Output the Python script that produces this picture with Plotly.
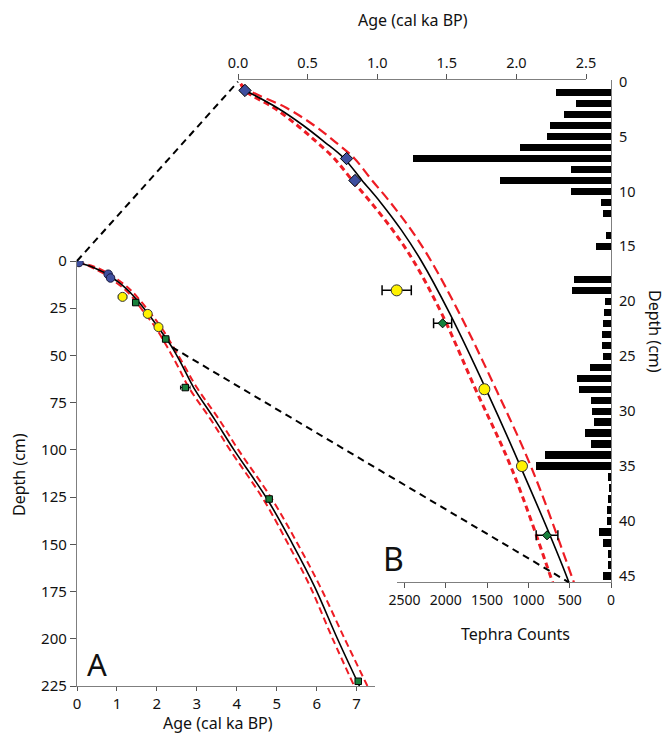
import plotly.graph_objects as go

W, H = 666, 736

# ---------------- data ----------------
# age-depth model (depth in cm, age in cal ka BP); lower/upper bounds of the model
model_depth = [0.2, 0.87, 2.4, 3.97, 5.5, 6.97, 8.97, 10.97, 13.52, 16.26, 21.08, 28.1, 35.2, 45.58,
               56, 67, 84, 100, 126, 150, 172.5, 200, 225]
model_age   = [None, 0.0625, 0.284, 0.467, 0.622, 0.761, 0.890, 1.023, 1.174, 1.314, 1.52, 1.785, 2.035, 2.377,
               2.65, 2.92, 3.45, 3.93, 4.76, 5.40, 5.95, 6.52, 7.07]
model_lo    = [0.02, 0.055, 0.26, 0.425, 0.565, 0.69, 0.82, 0.953, 1.112, 1.258, 1.462, 1.71, 1.965, 2.26,
               2.53, 2.80, 3.35, 3.83, 4.66, 5.29, 5.84, 6.40, 6.94]
model_hi    = [0.02, 0.09, 0.35, 0.545, 0.70, 0.835, 0.962, 1.093, 1.245, 1.384, 1.59, 1.857, 2.11, 2.413,
               2.70, 3.00, 3.56, 4.04, 4.88, 5.53, 6.09, 6.70, 7.27]

# dated horizons
pb_age = [0.05, 0.78, 0.84]
pb_depth = [0.8, 7, 9]

teph_age = [1.14, 1.77, 2.04]
teph_depth = [19, 28, 35]
teph_err = [0.105, 0.02, 0.02]

c14_age = [1.47, 2.22, 2.71, 4.81, 7.04]
c14_depth = [22, 41.3, 67, 126, 222.5]
c14_err = [0.065, 0.078, 0.12, 0.04, 0.04]

# tephra counts per cm
count_depth = list(range(1, 46))
counts = [666, 424, 569, 734, 771, 1101, 2396, 488, 1343, 484,
          121, 93, 0, 61, 185, 0, 0, 448, 472, 69,
          85, 93, 105, 105, 97, 254, 415, 391, 246, 230,
          206, 311, 238, 799, 908, 33, 24, 33, 52, 44,
          141, 93, 40, 40, 93]

a_xticks = [0, 1, 2, 3, 4, 5, 6, 7]
a_yticks = [0, 25, 50, 75, 100, 125, 150, 175, 200, 225]
b_xticks = [0, 0.5, 1.0, 1.5, 2.0, 2.5]
b_yticks = [0, 5, 10, 15, 20, 25, 30, 35, 40, 45]
c_xticks = [0, 500, 1000, 1500, 2000, 2500]

# ---------------- layout geometry ----------------
def dx(a, b):
    return [a / W, b / W]

def dy(top, bottom):
    return [1 - bottom / H, 1 - top / H]

A_XDOM, A_YDOM = dx(77, 375), dy(261, 686)
A_XRNG, A_YRNG = [0, 7.46], [225, 0]
B_XDOM, B_YDOM = dx(238, 586), dy(80, 582)
B_XRNG, B_YRNG = [0, 2.5], [45.55, -0.15]
C_XDOM, C_XRNG = dx(397, 611), [2590, 0]

def to_paper(v, dom, rng):
    return dom[0] + (v - rng[0]) / (rng[1] - rng[0]) * (dom[1] - dom[0])

FONT = "Noto Sans"
RED = "#ee1c24"
BLUE = "#3f4f9f"
YEL = "#fff200"
GRN = "#17803c"

fig = go.Figure()

# ---- panel A ----
fig.add_trace(go.Scatter(x=model_lo, y=model_depth, mode="lines", line=dict(color=RED, width=2, dash="7px,4px", shape="spline"),
                         xaxis="x", yaxis="y", showlegend=False))
fig.add_trace(go.Scatter(x=model_hi, y=model_depth, mode="lines", line=dict(color=RED, width=2, dash="7px,4px", shape="spline"),
                         xaxis="x", yaxis="y", showlegend=False))
fig.add_trace(go.Scatter(x=model_age, y=model_depth, mode="lines", line=dict(color="black", width=1.6, shape="spline"),
                         xaxis="x", yaxis="y", showlegend=False))
fig.add_trace(go.Scatter(x=pb_age, y=pb_depth, mode="markers",
                         marker=dict(symbol="circle", size=8.5, color=BLUE, line=dict(color="#1a1a40", width=1)),
                         xaxis="x", yaxis="y", showlegend=False))
fig.add_trace(go.Scatter(x=teph_age, y=teph_depth, mode="markers",
                         error_x=dict(type="data", array=teph_err, color="black", thickness=1, width=2),
                         marker=dict(symbol="circle", size=9, color=YEL, line=dict(color="#333", width=1)),
                         xaxis="x", yaxis="y", showlegend=False))
fig.add_trace(go.Scatter(x=c14_age, y=c14_depth, mode="markers",
                         error_x=dict(type="data", array=c14_err, color="black", thickness=1, width=2),
                         marker=dict(symbol="square", size=6.5, color=GRN, line=dict(color="black", width=1)),
                         xaxis="x", yaxis="y", showlegend=False))

# ---- panel B ----
fig.add_trace(go.Bar(x=counts, y=count_depth, orientation="h", width=0.67, marker=dict(color="black", line=dict(width=0)),
                     xaxis="x3", yaxis="y2", showlegend=False))
fig.add_trace(go.Scatter(x=model_lo, y=model_depth, mode="lines", line=dict(color=RED, width=3, dash="6px,4px", shape="spline"),
                         xaxis="x2", yaxis="y2", showlegend=False))
fig.add_trace(go.Scatter(x=model_hi, y=model_depth, mode="lines", line=dict(color=RED, width=2.2, dash="10px,5px", shape="spline"),
                         xaxis="x2", yaxis="y2", showlegend=False))
fig.add_trace(go.Scatter(x=model_age, y=model_depth, mode="lines", line=dict(color="black", width=1.6, shape="spline"),
                         xaxis="x2", yaxis="y2", showlegend=False))
fig.add_trace(go.Scatter(x=pb_age, y=pb_depth, mode="markers",
                         marker=dict(symbol="diamond", size=9.5, color=BLUE, line=dict(color="black", width=1)),
                         xaxis="x2", yaxis="y2", showlegend=False))
fig.add_trace(go.Scatter(x=teph_age, y=teph_depth, mode="markers",
                         error_x=dict(type="data", array=teph_err, color="black", thickness=1.5, width=5),
                         marker=dict(symbol="circle", size=11, color=YEL, line=dict(color="#333", width=1)),
                         xaxis="x2", yaxis="y2", showlegend=False))
fig.add_trace(go.Scatter(x=c14_age, y=c14_depth, mode="markers",
                         error_x=dict(type="data", array=c14_err, color="black", thickness=1.5, width=5),
                         marker=dict(symbol="diamond", size=7, color=GRN, line=dict(color="black", width=1)),
                         xaxis="x2", yaxis="y2", showlegend=False))

# connector lines between panel A and panel B (computed from the axes)
i_end = model_depth.index(45.58)
conn = [(0.0, 0.0), (model_age[i_end], model_depth[i_end])]
shapes = []
for age_v, dep_v in conn:
    shapes.append(dict(type="line", xref="paper", yref="paper",
                       x0=to_paper(age_v, A_XDOM, A_XRNG), y0=to_paper(dep_v, A_YDOM, A_YRNG),
                       x1=to_paper(age_v, B_XDOM, B_XRNG), y1=to_paper(dep_v, B_YDOM, B_YRNG),
                       line=dict(color="black", width=2, dash="7px,5px")))

axis_common = dict(showgrid=False, zeroline=False, showline=True, linecolor="#7f7f7f", linewidth=1.3,
                   automargin=False, tickcolor="#555", tickfont=dict(family=FONT, size=15, color="#111"))

def ann(text, xpx, ypx, size=16, angle=0):
    return dict(text=text, x=xpx / W, y=1 - ypx / H, xref="paper", yref="paper", showarrow=False,
                xanchor="center", yanchor="middle", textangle=angle,
                font=dict(family=FONT, size=size, color="#111"))

fig.update_layout(
    template="none",
    width=W, height=H, margin=dict(l=0, r=0, t=0, b=0, pad=0, autoexpand=False),
    paper_bgcolor="white", plot_bgcolor="rgba(0,0,0,0)",
    bargap=0, showlegend=False,
    xaxis=dict(**axis_common, domain=A_XDOM, range=A_XRNG, anchor="y", tickvals=a_xticks,
               ticks="outside", ticklen=4),
    yaxis=dict(**axis_common, domain=A_YDOM, range=A_YRNG, anchor="x", tickvals=a_yticks,
               ticks="outside", ticklen=6),
    xaxis2=dict(**{**axis_common, "tickfont": dict(family=FONT, size=14.5, color="#111")},
                domain=B_XDOM, range=B_XRNG, anchor="y2", side="top", tickvals=b_xticks,
                tickformat=".1f", ticks="outside", ticklen=5),
    yaxis2=dict(**{**axis_common, "tickfont": dict(family=FONT, size=14.5, color="#111")},
                domain=B_YDOM, range=B_YRNG, anchor="x3", side="right", tickvals=b_yticks,
                ticks="", ticklabelstandoff=4),
    xaxis3=dict(**{**axis_common, "tickfont": dict(family=FONT, size=14, color="#111")},
                domain=C_XDOM, range=C_XRNG, anchor="y2", side="bottom", tickvals=c_xticks,
                ticks="outside", ticklen=5),
    shapes=shapes,
    annotations=[
        ann("Age (cal ka BP)", 413, 20),
        ann("Tephra Counts", 515, 634),
        ann("Depth (cm)", 655, 331, angle=90),
        ann("Depth (cm)", 18.5, 474.5, angle=-90),
        ann("Age (cal ka BP)", 218, 723),
        ann("A", 97, 664, size=31),
        ann("B", 393, 558, size=32),
    ],
)

fig.write_html("out.html")
